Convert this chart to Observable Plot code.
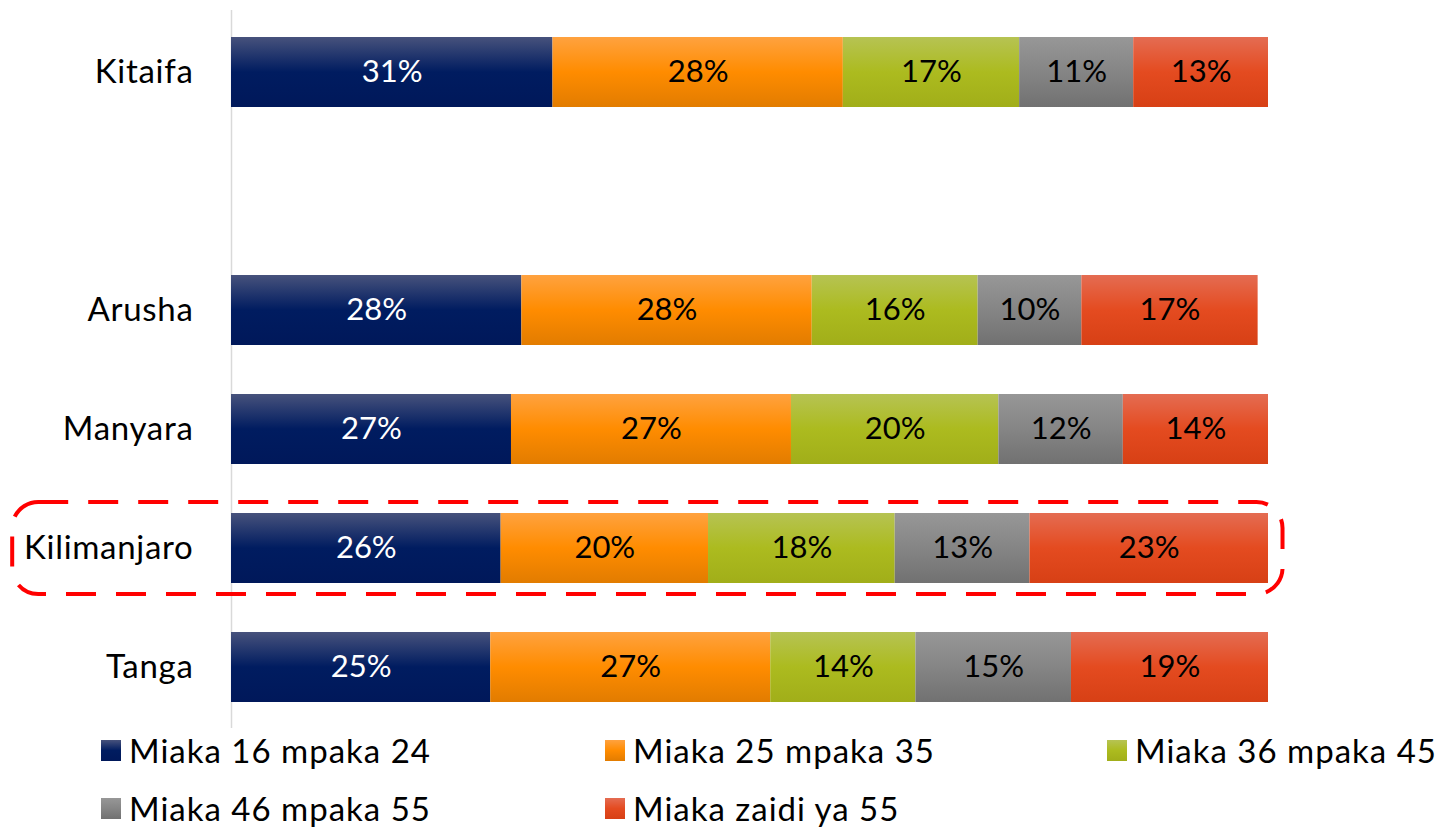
<!DOCTYPE html>
<html>
<head>
<meta charset="utf-8">
<script src="https://cdn.jsdelivr.net/npm/d3@7"></script>
<script src="https://cdn.jsdelivr.net/npm/@observablehq/plot@0.6"></script>
<style>
  body { margin: 0; background: #fff; font-family: Lato, "Open Sans", sans-serif; }
  #chart { position: relative; width: 1435px; height: 829px; }
  .legend { position: absolute; left: 101px; top: 728px; display: grid; grid-template-columns: 504px 502px 330px; grid-auto-rows: 58px; }
  .legend .item { display: flex; align-items: center; font-size: 33px; letter-spacing: 1px; color: #000; white-space: nowrap; height: 44px; }
  .legend .sw { width: 20px; height: 21px; margin-right: 8px; flex: none; }
</style>
</head>
<body>
<div id="chart"></div>
<script>
// Data
const regions = ["Kitaifa", "", "Arusha", "Manyara", "Kilimanjaro", "Tanga"];
const ageGroups = ["Miaka 16 mpaka 24", "Miaka 25 mpaka 35", "Miaka 36 mpaka 45", "Miaka 46 mpaka 55", "Miaka zaidi ya 55"];
const kitaifa     = [31, 28, 17, 11, 13];
const arusha      = [28, 28, 16, 10, 17];
const manyara     = [27, 27, 20, 12, 14];
const kilimanjaro = [26, 20, 18, 13, 23];
const tanga       = [25, 27, 14, 15, 19];
const highlighted = ["Kilimanjaro"];

// Styles
const gradStops = [
  ["#47527c", "#001c60", "#00185a"],
  ["#ffa23f", "#ff8c00", "#e27c00"],
  ["#b6c353", "#acbb1f", "#a1ae19"],
  ["#979797", "#858585", "#717171"],
  ["#e46c52", "#e44b20", "#d74015"]
];
const labelColors = ["#ffffff", "#000000", "#000000", "#000000", "#000000"];

const seriesByRegion = {Kitaifa: kitaifa, Arusha: arusha, Manyara: manyara, Kilimanjaro: kilimanjaro, Tanga: tanga};
const rows = [];
for (const [region, vals] of Object.entries(seriesByRegion)) {
  vals.forEach((v, i) => rows.push({region, group: ageGroups[i], value: v, gi: i}));
}

const chart = Plot.plot({
  width: 1435,
  height: 728,
  marginLeft: 231,
  marginRight: 167,
  marginTop: 10,
  marginBottom: 0,
  style: {fontFamily: "Lato, 'Open Sans', sans-serif", background: "#fff"},
  x: {domain: [0, 100], axis: null},
  y: {domain: regions, paddingInner: 0.415, paddingOuter: 0.2075, label: null, tickSize: 0, tickPadding: 38, tickFormat: d => d},
  color: {domain: ageGroups, range: ageGroups.map((_, i) => `url(#grad${i})`)},
  marks: [
    Plot.ruleX([0], {stroke: "#d9d9d9", strokeWidth: 1.5}),
    Plot.barX(rows, {y: "region", x: "value", fill: "group", order: null}),
    Plot.text(rows, Plot.stackX({y: "region", x: "value", order: null, text: d => `${d.value}%`, fill: d => labelColors[d.gi], fontSize: 31})),
    Plot.barX(highlighted, {y: d => d, x1: -21.1, x2: 101.4, insetTop: -11, insetBottom: -11, fill: "none", stroke: "#ff0000", strokeWidth: 4, strokeDasharray: "30,20", rx: 26})
  ]
});

// gradient defs
const svgNS = "http://www.w3.org/2000/svg";
const defs = document.createElementNS(svgNS, "defs");
gradStops.forEach((stops, i) => {
  const g = document.createElementNS(svgNS, "linearGradient");
  g.setAttribute("id", `grad${i}`);
  g.setAttribute("x1", "0"); g.setAttribute("y1", "0"); g.setAttribute("x2", "0"); g.setAttribute("y2", "1");
  [[0, stops[0]], [0.5, stops[1]], [1, stops[2]]].forEach(([o, c]) => {
    const s = document.createElementNS(svgNS, "stop");
    s.setAttribute("offset", o);
    s.setAttribute("stop-color", c);
    g.appendChild(s);
  });
  defs.appendChild(g);
});
chart.insertBefore(defs, chart.firstChild);
const yLabels = chart.querySelector("g[aria-label='y-axis tick label']");
if (yLabels) {
  yLabels.setAttribute("font-size", 33);
  yLabels.setAttribute("fill", "#000");
  yLabels.setAttribute("letter-spacing", "0.7");
}

const root = document.getElementById("chart");
root.appendChild(chart);

// legend
const legend = document.createElement("div");
legend.className = "legend";
ageGroups.forEach((name, i) => {
  const item = document.createElement("div");
  item.className = "item";
  const sw = document.createElement("span");
  sw.className = "sw";
  sw.style.background = `linear-gradient(${gradStops[i][0]}, ${gradStops[i][1]} 50%, ${gradStops[i][2]})`;
  const t = document.createElement("span");
  t.textContent = name;
  item.appendChild(sw); item.appendChild(t);
  legend.appendChild(item);
});
root.appendChild(legend);
</script>
</body>
</html>
